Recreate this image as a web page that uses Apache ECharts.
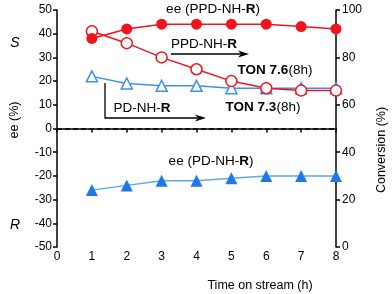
<!DOCTYPE html>
<html>
<head>
<meta charset="utf-8">
<script src="https://cdn.jsdelivr.net/npm/echarts@6/dist/echarts.min.js"></script>
<style>html,body{margin:0;padding:0;background:#fff}#c{width:392px;height:294px}</style>
</head>
<body>
<div id="c"></div>
<script>
var hours = [1, 2, 3, 4, 5, 6, 7, 8];
var eePPD = [38, 42, 44, 44, 44, 44, 43, 42];
var convPPD = [91, 86, 80, 75, 70, 67, 66, 66];
var convPD = [72, 69, 68, 68, 67, 67, 67, 67];
var eePD = [-26, -24, -22, -22, -21, -20, -20, -20];
var xTicks = [0, 1, 2, 3, 4, 5, 6, 7, 8];
var eeTicks = [-50, -40, -30, -20, -10, 0, 10, 20, 30, 40, 50];
var convTicks = [0, 20, 40, 60, 80, 100];

function pairs(ys) { return hours.map(function (h, i) { return [h, ys[i]]; }); }

var RED = '#f2141c';
var BLUE_LINE = '#3d8ff2';
var BLUE_LINE2 = '#5aa9f2';
var BLUE_FILL = '#1f78ea';
var FONT = 'Liberation Sans, Arial, sans-serif';
var axisLine = { show: true, lineStyle: { color: '#000', width: 1.5 } };
var axisTick = { show: true, inside: false, length: 4, lineStyle: { color: '#000', width: 1.5 } };

var chart = echarts.init(document.getElementById('c'), null, { renderer: 'canvas' });
chart.setOption({
  animation: false,
  backgroundColor: '#fff',
  grid: { left: 57, right: 56, top: 10, bottom: 47, containLabel: false },
  xAxis: {
    type: 'value', min: xTicks[0], max: xTicks[xTicks.length - 1], interval: 1,
    axisLine: axisLine, axisTick: axisTick, splitLine: { show: false },
    axisLabel: { color: '#000', fontSize: 12, fontFamily: FONT, margin: 4 }
  },
  yAxis: [
    {
      type: 'value', position: 'left', min: eeTicks[0], max: eeTicks[eeTicks.length - 1], interval: 10,
      axisLine: axisLine, axisTick: axisTick, splitLine: { show: false },
      axisLabel: { color: '#000', fontSize: 12, fontFamily: FONT, margin: 5 }
    },
    {
      type: 'value', position: 'right', min: convTicks[0], max: convTicks[convTicks.length - 1], interval: 20,
      axisLine: axisLine, axisTick: axisTick, splitLine: { show: false },
      axisLabel: { color: '#000', fontSize: 12, fontFamily: FONT, margin: 6 }
    }
  ],
  series: [
    {
      name: 'ee PPD', type: 'line', yAxisIndex: 0, data: pairs(eePPD),
      symbol: 'circle', symbolSize: 11,
      itemStyle: { color: RED }, lineStyle: { color: RED, width: 1.5 },
      z: 5,
      markLine: {
        silent: true, symbol: 'none', label: { show: false },
        lineStyle: { color: '#000', type: [5, 3], width: 1.5 },
        data: [{ yAxis: 0 }]
      }
    },
    {
      name: 'conv PPD', type: 'line', yAxisIndex: 1, data: pairs(convPPD),
      symbol: 'circle', symbolSize: 11,
      itemStyle: { color: '#fff', borderColor: RED, borderWidth: 1.5 },
      lineStyle: { color: RED, width: 1.5 }, z: 4
    },
    {
      name: 'conv PD', type: 'line', yAxisIndex: 1, data: pairs(convPD),
      symbol: 'triangle', symbolSize: 11,
      itemStyle: { color: '#fff', borderColor: BLUE_LINE, borderWidth: 1.5 },
      lineStyle: { color: BLUE_LINE, width: 1.5 }, z: 3
    },
    {
      name: 'ee PD', type: 'line', yAxisIndex: 0, data: pairs(eePD),
      symbol: 'triangle', symbolSize: 12,
      itemStyle: { color: BLUE_FILL },
      lineStyle: { color: BLUE_LINE2, width: 1.5 }, z: 3
    }
  ],
  graphic: [
    { type: 'text', x: 213, y: 9, style: { text: '{n|ee (PPD-NH-}{b|R}{n|)}', align: 'center', verticalAlign: 'middle',
      rich: { n: { fontSize: 13.5, fontFamily: FONT, fill: '#000' }, b: { fontSize: 13.5, fontFamily: FONT, fontWeight: 'bold', fill: '#000' } } } },
    { type: 'text', x: 204, y: 44, style: { text: '{n|PPD-NH-}{b|R}', align: 'center', verticalAlign: 'middle',
      rich: { n: { fontSize: 13.5, fontFamily: FONT, fill: '#000' }, b: { fontSize: 13.5, fontFamily: FONT, fontWeight: 'bold', fill: '#000' } } } },
    { type: 'polyline', shape: { points: [[171, 54], [246, 54]] }, style: { stroke: '#000', lineWidth: 1.3, fill: null } },
    { type: 'polygon', shape: { points: [[249, 54], [238, 50.5], [241, 54], [238, 57.5]] }, style: { fill: '#000' } },
    { type: 'text', x: 275, y: 70, style: { text: '{b|TON 7.6}{n|(8h)}', align: 'center', verticalAlign: 'middle',
      rich: { n: { fontSize: 13.5, fontFamily: FONT, fill: '#000' }, b: { fontSize: 13.5, fontFamily: FONT, fontWeight: 'bold', fill: '#000' } } } },
    { type: 'text', x: 263, y: 107, style: { text: '{b|TON 7.3}{n|(8h)}', align: 'center', verticalAlign: 'middle',
      rich: { n: { fontSize: 13.5, fontFamily: FONT, fill: '#000' }, b: { fontSize: 13.5, fontFamily: FONT, fontWeight: 'bold', fill: '#000' } } } },
    { type: 'text', x: 142, y: 108, style: { text: '{n|PD-NH-}{b|R}', align: 'center', verticalAlign: 'middle',
      rich: { n: { fontSize: 13.5, fontFamily: FONT, fill: '#000' }, b: { fontSize: 13.5, fontFamily: FONT, fontWeight: 'bold', fill: '#000' } } } },
    { type: 'polyline', shape: { points: [[105, 83], [105, 118], [203, 118]] }, style: { stroke: '#000', lineWidth: 1.3, fill: null } },
    { type: 'polygon', shape: { points: [[206, 118], [195, 114.5], [198, 118], [195, 121.5]] }, style: { fill: '#000' } },
    { type: 'text', x: 211, y: 161, style: { text: '{n|ee (PD-NH-}{b|R}{n|)}', align: 'center', verticalAlign: 'middle',
      rich: { n: { fontSize: 13.5, fontFamily: FONT, fill: '#000' }, b: { fontSize: 13.5, fontFamily: FONT, fontWeight: 'bold', fill: '#000' } } } },
    { type: 'text', x: 15, y: 43, style: { text: 'S', fontSize: 14, fontStyle: 'italic', fontFamily: FONT, fill: '#000', align: 'center', verticalAlign: 'middle' } },
    { type: 'text', x: 15, y: 225, style: { text: 'R', fontSize: 14, fontStyle: 'italic', fontFamily: FONT, fill: '#000', align: 'center', verticalAlign: 'middle' } },
    { type: 'text', x: 15, y: 120, rotation: Math.PI / 2, style: { text: 'ee (%)', fontSize: 12.5, fontFamily: FONT, fill: '#000', align: 'center', verticalAlign: 'middle' } },
    { type: 'text', x: 382, y: 150, rotation: Math.PI / 2, style: { text: 'Conversion (%)', fontSize: 12.5, fontFamily: FONT, fill: '#000', align: 'center', verticalAlign: 'middle' } },
    { type: 'text', x: 260, y: 286, style: { text: 'Time on stream (h)', fontSize: 12.5, fontFamily: FONT, fill: '#000', align: 'center', verticalAlign: 'middle' } }
  ]
});
</script>
</body>
</html>
